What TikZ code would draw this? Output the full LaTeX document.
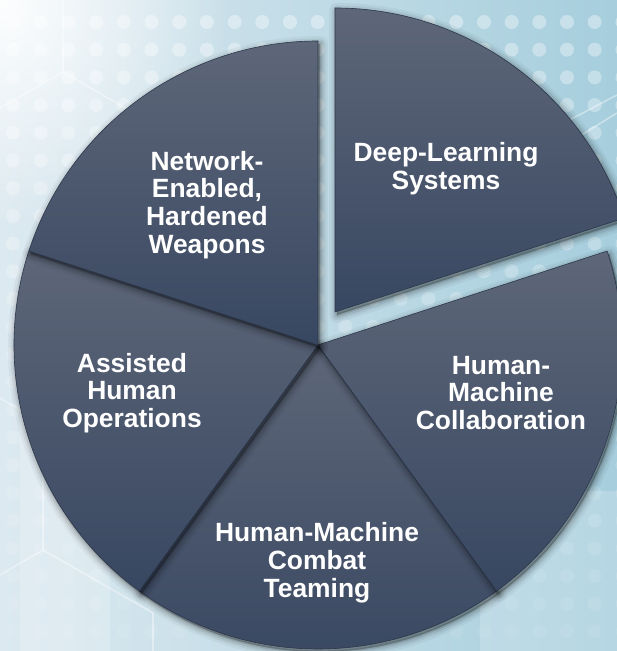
\documentclass[tikz,border=0pt]{standalone}
\usepackage{fontspec}
\setmainfont{Liberation Sans}
\usetikzlibrary{fadings}

\definecolor{slicetop}{HTML}{5E6779}
\definecolor{slicebot}{HTML}{384761}
\definecolor{sliceedge}{HTML}{2C374B}
\definecolor{bgleft}{HTML}{DCE9F0}
\definecolor{bgright}{HTML}{A6CEDD}

\tikzfading[name=glowfade, inner color=transparent!0, outer color=transparent!100]

\tikzset{
  pieslice/.style={top color=slicetop, bottom color=slicebot,
    draw=sliceedge, line width=0.6pt, line join=round},
  slicetext/.style={text=white, font=\bfseries\fontsize{26.4}{27.8}\selectfont,
    align=center, inner sep=0pt},
  hexline/.style={white, opacity=0.4, line width=1.6pt},
}

\def\R{304}
% one 72-degree slice with apex (#1,#2) starting at angle #3, with a soft shadow
\newcommand{\pieslicedraw}[3]{%
  \foreach \w/\o in {16/0.04,11/0.06,7/0.08,3/0.12}{%
    \filldraw[black, opacity=\o, line width=\w pt, line join=round, shift={(2,-3)}]
      (#1,#2) -- ++(#3:\R) arc[start angle=#3, delta angle=72, radius=\R] -- cycle;}
  \shadedraw[pieslice]
    (#1,#2) -- ++(#3:\R) arc[start angle=#3, delta angle=72, radius=\R] -- cycle;
}

\begin{document}
\begin{tikzpicture}[x=1pt,y=1pt]
\useasboundingbox (0,0) rectangle (617,651);

% background
\begin{scope}
  \clip (0,0) rectangle (617,651);
  \shade[left color=bgleft, right color=bgright] (0,0) rectangle (617,651);
  \fill[white, opacity=0.18] (480,0) rectangle (617,160);
  \fill[white, opacity=0.2] (20,0) rectangle (110,260);
  % dot grid, fading towards the bottom
  \foreach \i in {0,...,22} {
    \foreach \j in {0,...,23} {
      \pgfmathsetmacro{\op}{max(0.06, 0.36 - 0.013*\j)}
      \fill[white, opacity=\op] (13+27.7*\i, 651-22-27.7*\j) circle (7);
    }
  }
  % hexagon outlines
  \draw[hexline] (63,651) -- (63,579) -- (0,543);
  \draw[hexline] (63,579) -- (170,517);
  \draw[hexline] (0,253) -- (43,228) -- (43,101) -- (0,76);
  \draw[hexline] (43,228) -- (153,291);
  \draw[hexline] (43,101) -- (153,38) -- (153,0);
  \draw[hexline] (560,526) -- (617,556);
  \draw[hexline] (575,512) -- (617,538);
  \draw[hexline] (560,220) -- (617,250);
  % soft white glow in the upper left corner
  \fill[white, opacity=0.95, path fading=glowfade, fit fading=true]
    (0,651) circle (230);
\end{scope}

% pie centre and the apex of the pulled-out slice
\coordinate (c) at (318,306);
\coordinate (d) at (335,339);

% slices, drawn back to front
\pieslicedraw{318}{306}{234}
\pieslicedraw{318}{306}{306}
\pieslicedraw{318}{306}{162}
\pieslicedraw{318}{306}{90}
\pieslicedraw{335}{339}{18}

% slice labels
\node[slicetext] (dls) at (446,482) {Deep-Learning\\Systems};
\node[slicetext] (new) at (207,446) {Network-\\Enabled,\\Hardened\\Weapons};
\node[slicetext] (aho) at (132,258) {Assisted\\Human\\Operations};
\node[slicetext] (hmc) at (501,258) {Human-\\Machine\\Collaboration};
\node[slicetext] (hmt) at (317,88) {Human-Machine\\Combat\\Teaming};
\end{tikzpicture}
\end{document}
